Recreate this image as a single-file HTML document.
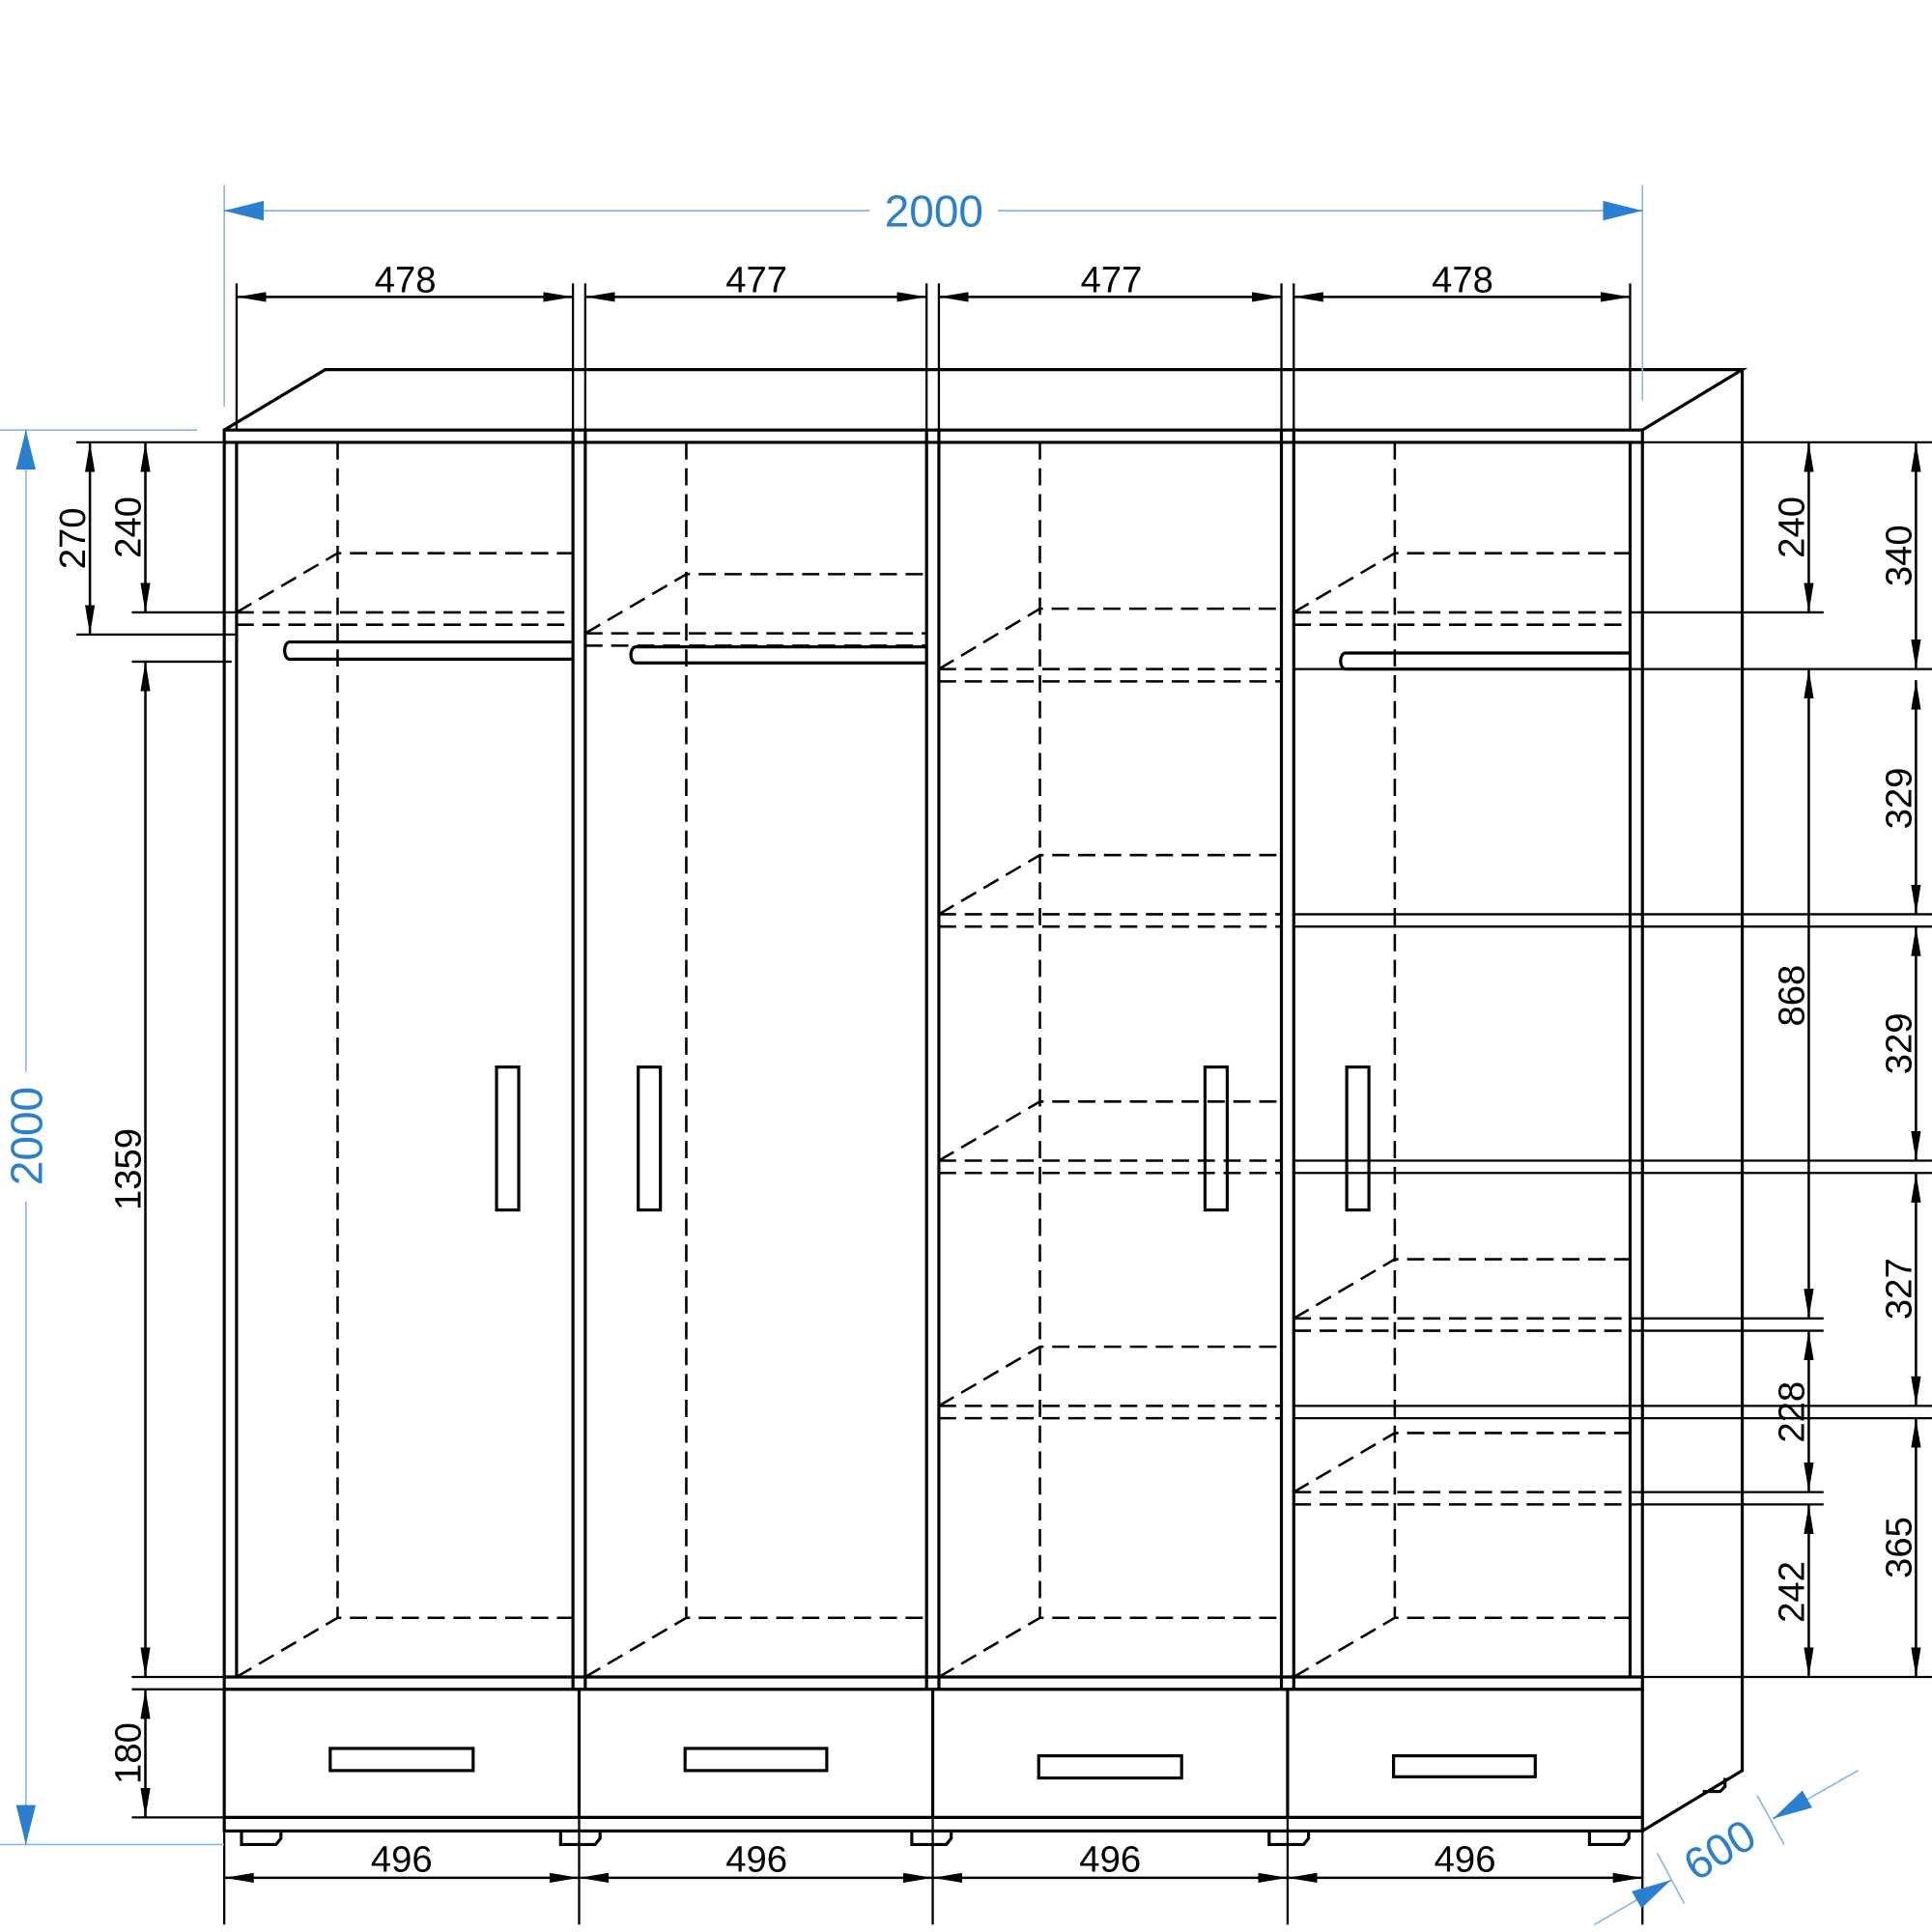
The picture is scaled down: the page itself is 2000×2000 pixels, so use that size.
<!DOCTYPE html>
<html><head><meta charset="utf-8"><style>html,body{margin:0;padding:0;background:#fff}svg{display:block}</style></head>
<body>
<svg width="2000" height="2000" viewBox="0 0 1568 1568" xmlns="http://www.w3.org/2000/svg">
<defs>
<marker id="a" viewBox="0 0 24 8" refX="24" refY="4" markerWidth="24" markerHeight="8" markerUnits="userSpaceOnUse" orient="auto-start-reverse"><path d="M0,0 L24,4 L0,8z" fill="#000"/></marker>
<marker id="b" viewBox="0 0 32 16" refX="32" refY="8" markerWidth="32" markerHeight="16" markerUnits="userSpaceOnUse" orient="auto-start-reverse"><path d="M0,0 L32,8 L0,16z" fill="#2a7fd0"/></marker>
</defs>
<g stroke="#000" stroke-width="2.5" fill="none">
<path d="M182,349 L264,300 L1414,300 L1333,349 M1414,300 L1414,1437 L1333,1486"/>
<rect x="182" y="349" width="1151" height="1137"/>
<line x1="182" y1="359" x2="1333" y2="359"/>
<line x1="192" y1="359" x2="192" y2="1361"/>
<line x1="465" y1="349" x2="465" y2="1371"/><line x1="475" y1="349" x2="475" y2="1371"/>
<line x1="752" y1="349" x2="752" y2="1371"/><line x1="762" y1="349" x2="762" y2="1371"/>
<line x1="1040" y1="349" x2="1040" y2="1371"/><line x1="1050" y1="349" x2="1050" y2="1371"/>
<line x1="1323" y1="359" x2="1323" y2="1361"/>
<line x1="182" y1="1361" x2="1333" y2="1361"/>
<line x1="182" y1="1371" x2="1333" y2="1371"/>
<line x1="182" y1="1475" x2="1333" y2="1475"/>
<line x1="470" y1="1371" x2="470" y2="1475"/><line x1="757" y1="1371" x2="757" y2="1475"/><line x1="1045" y1="1371" x2="1045" y2="1475"/>
<rect x="268" y="1419" width="116" height="18"/><rect x="556" y="1419" width="115" height="18"/>
<rect x="843" y="1425" width="116" height="18"/><rect x="1131" y="1425" width="115" height="17"/>
<rect x="403" y="866" width="18" height="116"/><rect x="518" y="866" width="18" height="116"/>
<rect x="978" y="866" width="18" height="116"/><rect x="1093" y="866" width="18" height="116"/>
<path d="M196,1486 v11 h28 l4,-5 v-6 M455,1486 v11 h28 l4,-5 v-6 M740,1486 v11 h28 l4,-5 v-6 M1030,1486 v11 h28 l4,-5 v-6 M1290,1486 v11 h28 l4,-5 v-6 M1382,1454 h14 l4,-4 v-7"/>
<path d="M465,521 H235 a4,7 0 0 0 0,14 H465 M752,525 H516 a4,6.5 0 0 0 0,13 H752 M1323,530 H1092 a4,6.5 0 0 0 0,13 H1323"/>
</g>
<g stroke="#000" stroke-width="2" fill="none" stroke-dasharray="14,7">
<path d="M274,359 V1313 M557,359 V1313 M844,359 V1313 M1132,359 V1313"/>
<path d="M192,1361 L274,1313 H465 M475,1361 L557,1313 H752 M762,1361 L844,1313 H1040 M1050,1361 L1132,1313 H1323"/>
<path d="M192,497 L274,449 H465 M192,497 H465 M192,507 H465"/>
<path d="M475,514 L557,466 H752 M475,514 H752 M475,524 H752"/>
<path d="M762,543 L844,494 H1040 M762,553 H1040 M762,742 L844,694 H1040 M762,752 H1040 M762,942 L844,894 H1040 M762,952 H1040 M762,1141 L844,1093 H1040 M762,1151 H1040"/>
<path d="M1050,497 L1132,449 H1323 M1050,507 H1323 M1050,1070 L1132,1022 H1323 M1050,1080 H1323 M1050,1211 L1132,1163 H1323 M1050,1221 H1323"/>
<path d="M762,543 H1040 M762,742 H1040 M762,942 H1040 M762,1141 H1040 M1050,497 H1323 M1050,1070 H1323 M1050,1211 H1323"/>
</g>
<g stroke="#000" stroke-width="1.8" fill="none">
<path d="M1333,359 H1568 M1323,497 H1480 M1050,543 H1568 M1050,742 H1568 M1050,752 H1568 M1050,942 H1568 M1050,952 H1568 M1050,1141 H1568 M1050,1151 H1568 M1323,1070 H1480 M1323,1080 H1480 M1323,1211 H1480 M1323,1221 H1480 M1333,1361 H1568"/>
<path d="M62,359 H182 M107,497 H192 M62,515 H192 M107,537 H188 M107,1361 H182 M107,1371 H182 M107,1475 H182"/>
<path d="M192,230 V349 M465,230 V349 M475,230 V349 M752,230 V349 M762,230 V349 M1040,230 V349 M1050,230 V349 M1323,230 V349"/>
<path d="M182,1486 V1562 M470,1475 V1562 M757,1475 V1562 M1045,1475 V1562 M1333,1486 V1562"/>
</g>
<g stroke="#000" stroke-width="2" marker-start="url(#a)" marker-end="url(#a)">
<line x1="192" y1="241" x2="465" y2="241"/><line x1="475" y1="241" x2="752" y2="241"/>
<line x1="762" y1="241" x2="1040" y2="241"/><line x1="1050" y1="241" x2="1323" y2="241"/>
<line x1="182" y1="1524" x2="470" y2="1524"/><line x1="470" y1="1524" x2="757" y2="1524"/>
<line x1="757" y1="1524" x2="1045" y2="1524"/><line x1="1045" y1="1524" x2="1333" y2="1524"/>
<line x1="73" y1="359" x2="73" y2="515"/><line x1="118" y1="359" x2="118" y2="497"/>
<line x1="118" y1="537" x2="118" y2="1361"/><line x1="118" y1="1371" x2="118" y2="1475"/>
<line x1="1468" y1="359" x2="1468" y2="497"/><line x1="1468" y1="543" x2="1468" y2="1070"/>
<line x1="1468" y1="1080" x2="1468" y2="1211"/><line x1="1468" y1="1221" x2="1468" y2="1361"/>
<line x1="1555" y1="359" x2="1555" y2="543"/><line x1="1555" y1="552" x2="1555" y2="742"/>
<line x1="1555" y1="752" x2="1555" y2="942"/><line x1="1555" y1="952" x2="1555" y2="1141"/>
<line x1="1555" y1="1151" x2="1555" y2="1361"/>
</g>
<g font-family="Liberation Sans Narrow, Liberation Sans, sans-serif" font-size="30" fill="#000" text-anchor="middle">
<text x="329" y="237">478</text><text x="614" y="237">477</text><text x="902" y="237">477</text><text x="1187" y="237">478</text>
<text x="326" y="1519">496</text><text x="614" y="1519">496</text><text x="901" y="1519">496</text><text x="1189" y="1519">496</text>
<text transform="translate(69,437) rotate(-90)">270</text>
<text transform="translate(114,428) rotate(-90)">240</text>
<text transform="translate(114,949) rotate(-90)">1359</text>
<text transform="translate(114,1423) rotate(-90)">180</text>
<text transform="translate(1464,428) rotate(-90)">240</text>
<text transform="translate(1464,808) rotate(-90)">868</text>
<text transform="translate(1464,1146) rotate(-90)">228</text>
<text transform="translate(1464,1292) rotate(-90)">242</text>
<text transform="translate(1551,451) rotate(-90)">340</text>
<text transform="translate(1551,648) rotate(-90)">329</text>
<text transform="translate(1551,847) rotate(-90)">329</text>
<text transform="translate(1551,1046) rotate(-90)">327</text>
<text transform="translate(1551,1256) rotate(-90)">365</text>
</g>
<g stroke="#8ab8e0" stroke-width="1.3" fill="none">
<path d="M182,150 V330 M1333,150 V325 M0,349 H160 M0,1497 H182"/>
<path d="M182,171 H706 M810,171 H1333"/>
<path d="M21,349 V870 M21,975 V1497"/>
<path d="M1294,1562 L1356,1526 M1439,1476 L1508,1437"/>
<path d="M1345,1504 L1367,1545 M1426,1457 L1448,1497"/>
</g>
<g stroke="#2a7fd0" stroke-width="1" fill="none">
<line x1="210" y1="171" x2="182" y2="171" marker-end="url(#b)"/>
<line x1="1305" y1="171" x2="1333" y2="171" marker-end="url(#b)"/>
<line x1="21" y1="380" x2="21" y2="349" marker-end="url(#b)"/>
<line x1="21" y1="1466" x2="21" y2="1497" marker-end="url(#b)"/>
<line x1="1328" y1="1542" x2="1356" y2="1526" marker-end="url(#b)"/>
<line x1="1467" y1="1460" x2="1439" y2="1476" marker-end="url(#b)"/>
</g>
<g font-family="Liberation Sans, sans-serif" font-size="36" fill="#2a7fd0" text-anchor="middle">
<text x="758" y="184">2000</text>
<text transform="translate(34,922) rotate(-90)">2000</text>
<text transform="translate(1402,1512) rotate(-31)">600</text>
</g>
</svg>
</body></html>
